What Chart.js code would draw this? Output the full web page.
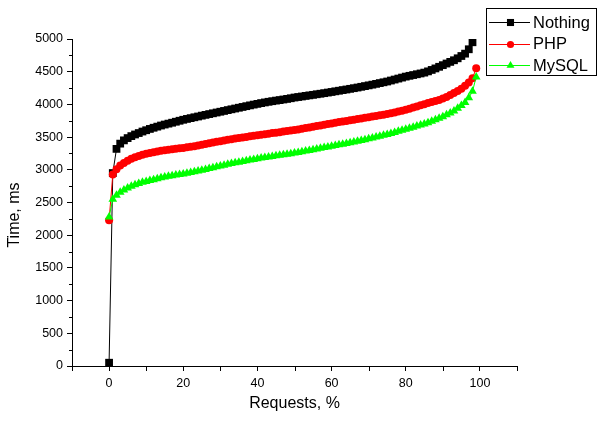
<!DOCTYPE html>
<html>
<head>
<meta charset="utf-8">
<script src="https://cdn.jsdelivr.net/npm/chart.js@4/dist/chart.umd.min.js"></script>
<style>
html, body { margin: 0; padding: 0; background: #fff; }
#wrap { width: 607px; height: 422px; }
</style>
</head>
<body>
<div id="wrap"><canvas id="c" width="607" height="422"></canvas></div>
<script>
// ---- data ----
const requestsPct = [0,1,2,3,4,5,6,7,8,9,10,11,12,13,14,15,16,17,18,19,20,21,22,23,24,25,26,27,28,29,30,31,32,33,34,35,36,37,38,39,40,41,42,43,44,45,46,47,48,49,50,51,52,53,54,55,56,57,58,59,60,61,62,63,64,65,66,67,68,69,70,71,72,73,74,75,76,77,78,79,80,81,82,83,84,85,86,87,88,89,90,91,92,93,94,95,96,97,98,99];

const seriesNames = ["Nothing", "PHP", "MySQL"];

const nothingMs = [50,2950,3320,3400,3450,3485,3515,3540,3562,3585,3605,3625,3643,3660,3677,3692,3706,3720,3735,3750,3765,3778,3790,3803,3815,3828,3840,3852,3864,3876,3888,3900,3913,3925,3937,3949,3961,3973,3985,3997,4008,4020,4030,4040,4049,4058,4066,4075,4084,4094,4105,4113,4121,4130,4138,4146,4155,4163,4172,4181,4190,4200,4209,4219,4228,4238,4248,4258,4269,4280,4291,4302,4314,4326,4338,4350,4365,4380,4395,4410,4425,4437,4449,4461,4473,4486,4505,4527,4550,4575,4600,4625,4650,4675,4705,4740,4776,4843,4950];

const phpMs = [2230,2930,3010,3064,3105,3140,3170,3192,3212,3230,3245,3257,3268,3280,3292,3300,3307,3314,3321,3328,3335,3344,3353,3362,3372,3383,3394,3405,3416,3427,3438,3449,3460,3469,3478,3487,3495,3503,3512,3520,3528,3537,3545,3553,3561,3568,3576,3584,3592,3600,3608,3618,3628,3638,3648,3658,3668,3678,3689,3699,3709,3719,3729,3739,3748,3757,3766,3776,3786,3795,3805,3814,3824,3833,3843,3852,3864,3877,3890,3904,3918,3934,3951,3968,3986,4004,4020,4036,4052,4069,4090,4115,4145,4175,4205,4240,4284,4335,4400,4553];

const mysqlMs = [2280,2550,2610,2657,2690,2720,2748,2770,2790,2808,2822,2835,2849,2863,2877,2890,2900,2910,2919,2928,2937,2948,2958,2969,2980,2993,3006,3019,3032,3045,3058,3071,3085,3096,3106,3116,3127,3138,3148,3159,3170,3180,3189,3197,3205,3214,3222,3230,3238,3247,3255,3266,3276,3287,3297,3308,3318,3329,3340,3350,3361,3371,3382,3392,3403,3413,3424,3435,3448,3461,3474,3487,3500,3513,3527,3540,3556,3572,3588,3604,3620,3636,3652,3668,3684,3700,3720,3742,3764,3787,3810,3840,3870,3900,3940,3985,4030,4100,4200,4420];

const xTickValues = [0, 20, 40, 60, 80, 100];
const xTickLabels = ["0", "20", "40", "60", "80", "100"];
const xMinorTickValues = [-10, 10, 30, 50, 70, 90, 110];
const yTickValues = [0, 500, 1000, 1500, 2000, 2500, 3000, 3500, 4000, 4500, 5000];
const yTickLabels = ["0", "500", "1000", "1500", "2000", "2500", "3000", "3500", "4000", "4500", "5000"];
const yMinorTickValues = [250, 750, 1250, 1750, 2250, 2750, 3250, 3750, 4250, 4750];
const xAxisTitle = "Requests, %";
const yAxisTitle = "Time, ms";

// ---- styling ----
const FONT = "'Liberation Sans', Arial, sans-serif";
const colors = ["#000000", "#ff0000", "#00ff00"];
const styles = ["rect", "circle", "triangle"];
const radii = [5.5, 4, 5];

function pts(ys) { return ys.map((v, i) => ({ x: requestsPct[i], y: v })); }
const allSeries = [nothingMs, phpMs, mysqlMs];

const datasets = allSeries.map((s, i) => ({
  label: seriesNames[i],
  data: pts(s),
  showLine: true,
  borderColor: colors[i],
  borderWidth: 1,
  backgroundColor: colors[i],
  pointStyle: styles[i],
  pointRadius: radii[i],
  pointBackgroundColor: colors[i],
  pointBorderColor: colors[i],
  pointBorderWidth: 0,
  order: 3 - i
}));

function drawMarker(ctx, style, x, y, r, color) {
  ctx.fillStyle = color;
  ctx.beginPath();
  if (style === 'rect') {
    const s = r / Math.SQRT2;
    ctx.rect(x - s, y - s, 2 * s, 2 * s);
  } else if (style === 'circle') {
    ctx.arc(x, y, r, 0, Math.PI * 2);
  } else {
    ctx.moveTo(x, y - r);
    ctx.lineTo(x + r * Math.sin(2 * Math.PI / 3), y - r * Math.cos(2 * Math.PI / 3));
    ctx.lineTo(x + r * Math.sin(4 * Math.PI / 3), y - r * Math.cos(4 * Math.PI / 3));
    ctx.closePath();
  }
  ctx.fill();
}

const overlay = {
  id: 'overlay',
  beforeDraw(chart) {
    const ctx = chart.ctx;
    ctx.save();
    ctx.fillStyle = '#fff';
    ctx.fillRect(0, 0, chart.width, chart.height);
    ctx.restore();
  },
  afterDraw(chart) {
    const ctx = chart.ctx;
    const xs = chart.scales.x, ys = chart.scales.y;
    ctx.save();
    ctx.strokeStyle = '#000';
    ctx.lineWidth = 1;
    // minor ticks
    xMinorTickValues.forEach(v => {
      const px = Math.round(xs.getPixelForValue(v)) + 0.5;
      ctx.beginPath();
      ctx.moveTo(px, ys.bottom);
      ctx.lineTo(px, ys.bottom + 5);
      ctx.stroke();
    });
    yMinorTickValues.forEach(v => {
      const py = Math.round(ys.getPixelForValue(v)) + 0.5;
      ctx.beginPath();
      ctx.moveTo(xs.left, py);
      ctx.lineTo(xs.left - 3, py);
      ctx.stroke();
    });
    // axis titles
    ctx.fillStyle = '#000';
    ctx.font = "16px " + FONT;
    ctx.textAlign = 'center';
    ctx.textBaseline = 'middle';
    ctx.fillText(xAxisTitle, (xs.left + xs.right) / 2, 404);
    ctx.save();
    ctx.translate(15, 215);
    ctx.rotate(-Math.PI / 2);
    ctx.fillText(yAxisTitle, 0, 0);
    ctx.restore();
    // legend
    const bx = 486.5, by = 8.5, bw = 110, bh = 67;
    ctx.fillStyle = '#fff';
    ctx.fillRect(bx, by, bw, bh);
    ctx.strokeStyle = '#000';
    ctx.strokeRect(bx, by, bw, bh);
    const rows = [22, 43.5, 65];
    const legendRadii = [5, 3.6, 4.6];
    seriesNames.forEach((name, i) => {
      const y = rows[i];
      ctx.strokeStyle = colors[i];
      ctx.beginPath();
      ctx.moveTo(489, Math.round(y) + 0.5);
      ctx.lineTo(530, Math.round(y) + 0.5);
      ctx.stroke();
      drawMarker(ctx, styles[i], 510.5, Math.round(y) + 0.5, legendRadii[i], colors[i]);
      ctx.fillStyle = '#000';
      ctx.font = "16.5px " + FONT;
      ctx.textAlign = 'left';
      ctx.textBaseline = 'middle';
      ctx.fillText(name, 533, y + 1);
    });
    ctx.restore();
  }
};

new Chart(document.getElementById('c'), {
  type: 'scatter',
  data: { datasets },
  options: {
    responsive: false,
    devicePixelRatio: 1,
    animation: false,
    layout: { padding: { left: 0, right: 90, top: 39, bottom: 0 } },
    plugins: { legend: { display: false }, tooltip: { enabled: false } },
    scales: {
      x: {
        type: 'linear',
        min: -10, max: 110,
        afterBuildTicks: s => { s.ticks = xTickValues.map(v => ({ value: v })); },
        afterFit: s => { s.height = 56; },
        border: { display: true, color: '#000', width: 1 },
        grid: { display: true, drawOnChartArea: false, drawTicks: true, tickLength: 5, tickColor: '#000', tickWidth: 1 },
        ticks: {
          color: '#000', font: { family: FONT, size: 12.5 }, padding: 5, maxRotation: 0, autoSkip: false,
          callback: (v) => { const k = xTickValues.indexOf(v); return k >= 0 ? xTickLabels[k] : ''; }
        },
        title: { display: false }
      },
      y: {
        type: 'linear',
        min: 0, max: 5000,
        afterBuildTicks: s => { s.ticks = yTickValues.map(v => ({ value: v })); },
        afterFit: s => { s.width = 72; },
        border: { display: true, color: '#000', width: 1 },
        grid: { display: true, drawOnChartArea: false, drawTicks: true, tickLength: 5, tickColor: '#000', tickWidth: 1 },
        ticks: {
          color: '#000', font: { family: FONT, size: 12.5 }, padding: 4, autoSkip: false,
          callback: (v) => { const k = yTickValues.indexOf(v); return k >= 0 ? yTickLabels[k] : ''; }
        },
        title: { display: false }
      }
    }
  },
  plugins: [overlay]
});
</script>
</body>
</html>
